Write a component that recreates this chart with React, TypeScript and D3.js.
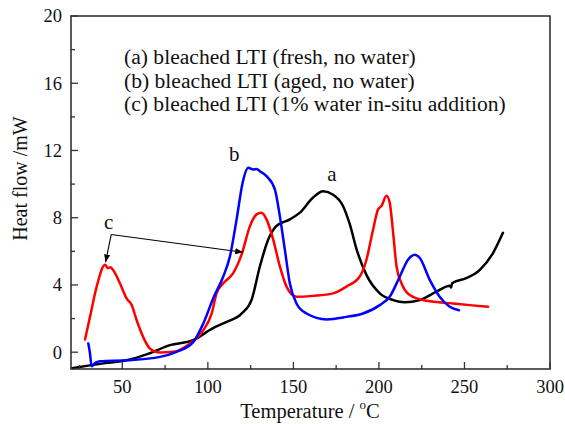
import React from 'react';
import * as d3 from 'd3';

// curve (a) bleached LTI, fresh, no water  [temperature, heat flow]
const curveA: [number, number][] = [
  [20.6, -0.95], [30, -0.8], [40, -0.65], [52.5, -0.48], [65, -0.1], [77.8, 0.42],
  [91.4, 0.72], [103, 1.43], [111, 1.8], [119.7, 2.3], [125.5, 3.1], [130.4, 5.1],
  [135.3, 6.7], [140, 7.5], [147.9, 7.9], [153.8, 8.3], [161.5, 9.2], [167.4, 9.57],
  [173.2, 9.37], [179, 8.7], [183, 7.6], [187, 6.1], [192.7, 4.6], [200.5, 3.5],
  [208.3, 3.1], [215, 2.97], [223.9, 3.1], [233.6, 3.6], [241.5, 3.95], [242.2, 3.85],
  [242.8, 4.1], [251, 4.4], [259, 4.9], [266.7, 5.9], [272.5, 7.1],
];

// curve (b) bleached LTI, aged, no water
const curveB: [number, number][] = [
  [30.1, 0.52], [31, 0.0], [32.1, -0.84], [34, -0.65], [36.9, -0.54], [52.5, -0.48],
  [72, -0.28], [81.7, 0.02], [91.4, 0.6], [97.3, 1.7], [103.1, 3.2], [109, 4.5],
  [112.9, 5.7], [116.8, 7.9], [120.3, 10.07], [123.6, 10.97], [126.5, 10.87],
  [128.5, 10.9], [130.4, 10.77], [134.3, 10.47], [139.2, 9.67], [142.1, 8.08],
  [145, 6.1], [147.9, 4.1], [151.8, 2.9], [157.7, 2.3], [169.4, 1.95], [181, 2.1],
  [190.7, 2.3], [200.5, 2.8], [206.3, 3.3], [212.2, 4.5], [217, 5.5], [221, 5.8],
  [223.9, 5.6], [229.7, 4.3], [235.5, 3.3], [241.4, 2.7], [246.8, 2.5],
];

// curve (c) bleached LTI, 1% water in-situ addition
const curveC: [number, number][] = [
  [28.2, 0.76], [31.1, 2.1], [35, 3.9], [39.9, 5.2], [41.5, 5.0], [43, 5.05],
  [44.5, 4.9], [48.6, 4.1], [52.5, 3.2], [55.5, 2.8], [58.4, 1.9], [62.2, 0.9],
  [66.1, 0.22], [72, -0.02], [79.8, 0.02], [89.5, 0.52], [97.3, 1.3], [102.2, 2.3],
  [105.1, 3.5], [109, 4.1], [114.8, 4.7], [119.7, 5.8], [124.6, 7.5], [128.5, 8.2],
  [131.4, 8.3], [134.3, 7.9], [138.2, 6.7], [142.1, 5.1], [146, 3.9], [151.8, 3.3],
  [161.5, 3.35], [173.2, 3.5], [181, 3.9], [188.8, 4.5], [192.7, 5.5], [196.6, 7.3],
  [199.5, 8.5], [201.5, 8.7], [204.4, 9.3], [206.3, 8.9], [208.3, 7.1], [210.3, 5.1],
  [213.2, 4.1], [218, 3.4], [227.8, 3.06], [243.3, 2.9], [253, 2.8], [263.8, 2.7],
];

const xTicks = [50, 100, 150, 200, 250, 300];
const xMinor = [25, 75, 125, 175, 225, 275];
const yTicks = [0, 4, 8, 12, 16, 20];
const yMinor = [2, 6, 10, 14, 18];
const legendLines = [
  '(a) bleached LTI (fresh, no water)',
  '(b) bleached LTI (aged, no water)',
  '(c) bleached LTI (1% water in-situ addition)',
];
// curve letters, placed in data coordinates
const curveLabels = [
  { text: 'a', x: 172.5, y: 10.2 },
  { text: 'b', x: 115.5, y: 11.4 },
  { text: 'c', x: 42, y: 7.35 },
];
// arrows from the "c" label to both peaks of curve c
const arrowFrom: [number, number] = [43.5, 7.0];
const arrowTo: [number, number][] = [[40.2, 5.35], [120.5, 5.95]];

const W = 565, H = 424;
const margin = { top: 16, right: 15, bottom: 55, left: 71 };
const font = '"Liberation Serif", "Times New Roman", serif';

export default function App() {
  const x = d3.scaleLinear().domain([20, 300]).range([margin.left, W - margin.right]);
  const y = d3.scaleLinear().domain([-1, 20]).range([H - margin.bottom, margin.top]);

  const line = d3.line<[number, number]>()
    .x(d => x(d[0]))
    .y(d => y(d[1]))
    .curve(d3.curveMonotoneX);

  const series = [
    { data: curveA, color: '#000000' },
    { data: curveC, color: '#ff0000' },
    { data: curveB, color: '#0000ff' },
  ];

  const bottom = H - margin.bottom;
  const [x0, x1] = x.range();

  return (
    <svg width={W} height={H} style={{ position: 'absolute', left: 0, top: 0 }} fontFamily={font}>
      <defs>
        <marker id="arr" viewBox="0 0 10 10" refX="10" refY="5" markerWidth="7" markerHeight="7" orient="auto">
          <path d="M0,1 L10,5 L0,9 z" fill="#000" />
        </marker>
      </defs>
      <rect width={W} height={H} fill="#fff" />

      {series.map((s, i) => (
        <path key={i} d={line(s.data) || ''} fill="none" stroke={s.color} strokeWidth={2.5}
          strokeLinejoin="round" strokeLinecap="round" />
      ))}

      {/* frame */}
      <rect x={x0} y={margin.top} width={x1 - x0} height={bottom - margin.top}
        fill="none" stroke="#333" strokeWidth={1.6} />

      {/* x ticks */}
      {xTicks.map(t => (
        <g key={'xt' + t}>
          <line x1={x(t)} x2={x(t)} y1={bottom} y2={bottom - 7} stroke="#333" strokeWidth={1.3} />
          <text x={x(t)} y={bottom + 24} fontSize={18.5} textAnchor="middle" fill="#111">{t}</text>
        </g>
      ))}
      {xMinor.map(t => (
        <line key={'xm' + t} x1={x(t)} x2={x(t)} y1={bottom} y2={bottom - 4} stroke="#333" strokeWidth={1.3} />
      ))}

      {/* y ticks */}
      {yTicks.map(t => (
        <g key={'yt' + t}>
          <line x1={x0} x2={x0 + 7} y1={y(t)} y2={y(t)} stroke="#333" strokeWidth={1.3} />
          <text x={x0 - 9} y={y(t)} dy="0.35em" fontSize={18.5} textAnchor="end" fill="#111">{t}</text>
        </g>
      ))}
      {yMinor.map(t => (
        <line key={'ym' + t} x1={x0} x2={x0 + 4} y1={y(t)} y2={y(t)} stroke="#333" strokeWidth={1.3} />
      ))}

      {/* axis titles */}
      <text x={310} y={418} fontSize={20.5} textAnchor="middle" fill="#111">
        Temperature / <tspan dy={-9} fontSize={13}>o</tspan><tspan dy={9}>C</tspan>
      </text>
      <text transform={`translate(27,${(margin.top + bottom) / 2 - 14}) rotate(-90)`} fontSize={20}
        textAnchor="middle" fill="#111">Heat flow /mW</text>

      {/* legend text */}
      {legendLines.map((l, i) => (
        <text key={l} x={124} y={64 + i * 23.5} fontSize={21.6} fill="#111">{l}</text>
      ))}

      {/* curve letters */}
      {curveLabels.map(c => (
        <text key={c.text} x={x(c.x)} y={y(c.y)} fontSize={21} textAnchor="middle" fill="#111">{c.text}</text>
      ))}

      {arrowTo.map((p, i) => (
        <line key={'ar' + i} x1={x(arrowFrom[0])} y1={y(arrowFrom[1])} x2={x(p[0])} y2={y(p[1])}
          stroke="#000" strokeWidth={1.1} markerEnd="url(#arr)" />
      ))}
    </svg>
  );
}
